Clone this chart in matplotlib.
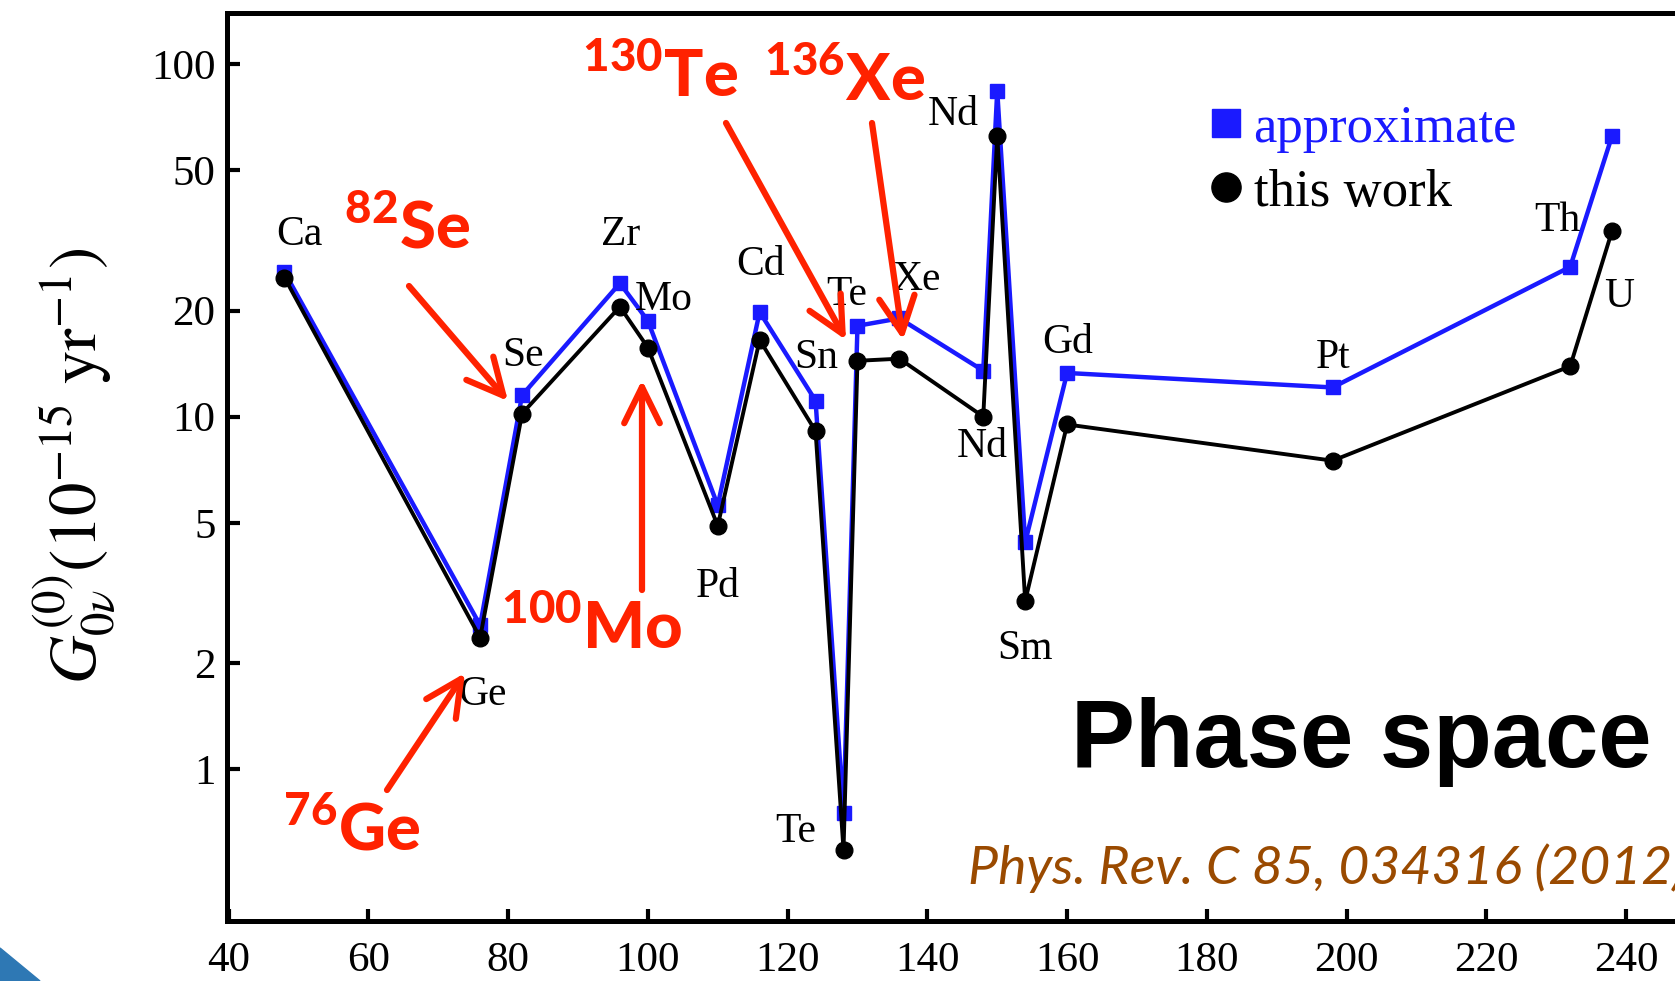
import matplotlib
matplotlib.use("Agg")
import matplotlib.pyplot as plt
from matplotlib.lines import Line2D
from matplotlib.patches import Polygon
from matplotlib.ticker import NullLocator

plt.rcParams["font.family"] = "Liberation Serif"
plt.rcParams["mathtext.bf"] = "Lato:black"

# double beta decay candidates: mass number and element
mass = [48, 76, 82, 96, 100, 110, 116, 124, 128, 130, 136, 148, 150, 154, 160, 198, 232, 238]
element = ["Ca", "Ge", "Se", "Zr", "Mo", "Pd", "Cd", "Sn", "Te", "Te", "Xe",
           "Nd", "Nd", "Sm", "Gd", "Pt", "Th", "U"]

# phase space factor G0v in units of 1e-15 / yr
g_approx = [25.7, 2.56, 11.5, 23.9, 18.7, 5.6, 19.8, 11.1, 0.75, 18.1, 19.0,
            13.5, 84.0, 4.4, 13.3, 12.1, 26.6, 62.7]
g_this = [24.8, 2.36, 10.2, 20.5, 15.7, 4.9, 16.5, 9.1, 0.59, 14.4, 14.6,
          10.0, 62.7, 3.0, 9.5, 7.5, 13.9, 33.7]

xticks = [40, 60, 80, 100, 120, 140, 160, 180, 200, 220, 240]
yticks = [1, 2, 5, 10, 20, 50, 100]

# where each element name sits relative to its point (pixels)
label_offsets = [(15, 43), (2, -57), (1, 58), (1, 72), (16, 48), (0, -61), (1, 75),
                 (1, 73), (-48, 18), (-11, 66), (17, 79), (-1, -30), (-44, 21),
                 (0, -48), (1, 82), (0, 103), (-13, 145), (7, -66)]

# highlighted isotopes: (mass, symbol, label anchor, arrow tail, arrow tip), pixels from top-left
highlights = [
    ("82", "Se", (344, 248), (409, 286), (508, 401)),
    ("100", "Mo", (501, 649), (642, 590), (642, 380)),
    ("76", "Ge", (283, 850), (387, 790), (465, 673)),
    ("130", "Te", (582, 97), (726, 123), (846, 340)),
    ("136", "Xe", (764, 101), (872, 123), (903, 340)),
]

W, H = 1675, 981
BLUE = "#1a1aff"
RED = "#ff2200"

fig = plt.figure(figsize=(W / 100, H / 100), dpi=100)
ax = fig.add_axes([226.5 / W, 60 / H, (1696 - 226.5) / W, (921 - 13) / H])

ax.plot(mass, g_approx, color=BLUE, lw=3.2, marker="s", ms=10, zorder=2)
ax.plot(mass, g_this, color="black", lw=2.8, marker="o", ms=12, zorder=3)

for m, g, el, (dx, dy) in zip(mass, g_this, element, label_offsets):
    ax.annotate(el, (m, g), xytext=(dx, dy), textcoords="offset pixels",
                ha="center", va="center", fontsize=30)

ax.set_yscale("log")
ax.set_xlim(39.7, 250)
ax.set_ylim(0.371, 139.6)
ax.set_xticks(xticks)
ax.set_xticklabels([str(t) for t in xticks])
ax.set_yticks(yticks)
ax.set_yticklabels([str(t) for t in yticks])
ax.yaxis.set_minor_locator(NullLocator())
ax.tick_params(direction="in", length=9, width=3, labelsize=31)
ax.tick_params(axis="x", pad=15)
ax.tick_params(axis="y", pad=8)
for s in ax.spines.values():
    s.set_linewidth(3.6)

handles = [Line2D([], [], ls="none", marker="s", ms=20, color=BLUE),
           Line2D([], [], ls="none", marker="o", ms=21, color="black")]
ax.legend(handles, ["approximate", "this work"], loc="upper left",
          bbox_to_anchor=(0.6655, 0.899), frameon=False, fontsize=38,
          handlelength=0.8, handletextpad=0.13, labelspacing=0.3,
          borderpad=0, borderaxespad=0, labelcolor=[BLUE, "black"])


def px(x, y):
    return x / W, 1 - y / H


fig.text(*px(75, 466), r"$G^{(0)}_{0\nu}(10^{-15}\ \mathrm{yr}^{-1})$",
         rotation=90, ha="center", va="center", fontsize=48, math_fontfamily="stix")

for num, sym, anchor, tail, tip in highlights:
    fig.text(*px(*anchor), r"$^{\mathbf{%s}}\mathbf{%s}$" % (num, sym), color=RED,
             fontsize=47, ha="left", va="baseline", math_fontfamily="custom")
    ax.annotate("", xy=(tip[0], H - tip[1]), xytext=(tail[0], H - tail[1]),
                xycoords="figure pixels", textcoords="figure pixels",
                arrowprops=dict(arrowstyle="->,head_length=0.65,head_width=0.32",
                                color=RED, lw=4.5, mutation_scale=40,
                                shrinkA=0, shrinkB=0))

fig.text(*px(1071, 767), "Phase space", fontsize=69, fontweight="bold",
         family="Liberation Sans", ha="left", va="baseline")
fig.text(*px(968, 884), "Phys. Rev. C 85, 034316 (2012)", fontsize=38.5,
         style="italic", family="Lato", color="#9a4a00", ha="left", va="baseline")

# corner of the slide background
fig.add_artist(Polygon([(0, 0), (0, 33 / H), (40 / W, 0)], closed=True,
                       transform=fig.transFigure, color="#2e78b4"))

fig.savefig("out.png", dpi=100)
